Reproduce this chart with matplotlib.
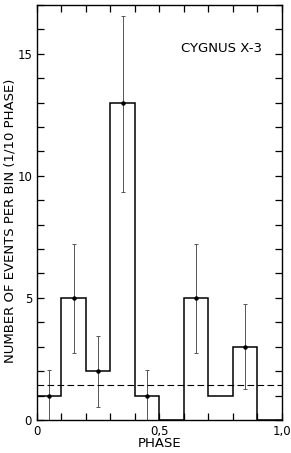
import numpy as np
import matplotlib.pyplot as plt
from matplotlib.ticker import MultipleLocator, FixedLocator

# bins de fase (largura 0.1)
bin_edges = [0.0, 0.1, 0.2, 0.3, 0.4, 0.5, 0.6, 0.7, 0.8, 0.9, 1.0]
counts = [1, 5, 2, 13, 1, 0, 5, 1, 3, 0]

# barras de erro (centro, valor, limite inferior, limite superior)
err_x = [0.05, 0.15, 0.25, 0.35, 0.45, 0.65, 0.85]
err_y = [1, 5, 2, 13, 1, 5, 3]
err_lo = [0.0, 2.75, 0.55, 9.35, 0.0, 2.75, 1.26]
err_hi = [2.05, 7.2, 3.45, 16.55, 2.05, 7.2, 4.75]

background = 1.45

plt.rcParams['font.family'] = 'DejaVu Sans'
fig = plt.figure(figsize=(2.91, 4.53), dpi=100)
ax = fig.add_axes([0.127, 0.073, 0.842, 0.916])

ax.stairs(counts, bin_edges, color='black', linewidth=1.1)

y = np.array(err_y)
yerr = [y - np.array(err_lo), np.array(err_hi) - y]
ax.errorbar(err_x, err_y, yerr=yerr, fmt='o', color='#555555', markersize=2.2,
            mfc='black', mec='black', elinewidth=0.7, capsize=1.5, capthick=0.7)

ax.axhline(background, color='black', linestyle=(0, (6, 3)), linewidth=0.8)

ax.set_xlim(0, 1.0)
ax.set_ylim(0, 17)

ax.xaxis.set_major_locator(FixedLocator([0, 0.5, 1.0]))
ax.xaxis.set_minor_locator(MultipleLocator(0.1))
ax.yaxis.set_major_locator(MultipleLocator(5))
ax.yaxis.set_minor_locator(MultipleLocator(1))
ax.set_xticklabels(['0', '0,5', '1,0'])
ax.tick_params(which='both', direction='in', top=True, right=True, labelsize=8.5)
ax.tick_params(which='major', length=5, width=0.9)
ax.tick_params(which='minor', length=5, width=0.9)
for s in ax.spines.values():
    s.set_linewidth(1.0)

ax.set_xlabel('PHASE', fontsize=9.5)
ax.xaxis.set_label_coords(0.5, -0.04)
ax.set_ylabel('NUMBER OF EVENTS PER BIN (1/10 PHASE)', fontsize=9.5)
ax.yaxis.set_label_coords(-0.085, 0.48)

ax.text(0.92, 15.2, 'CYGNUS X-3', ha='right', va='center', fontsize=9.5)

plt.savefig('out.png', dpi=100)
